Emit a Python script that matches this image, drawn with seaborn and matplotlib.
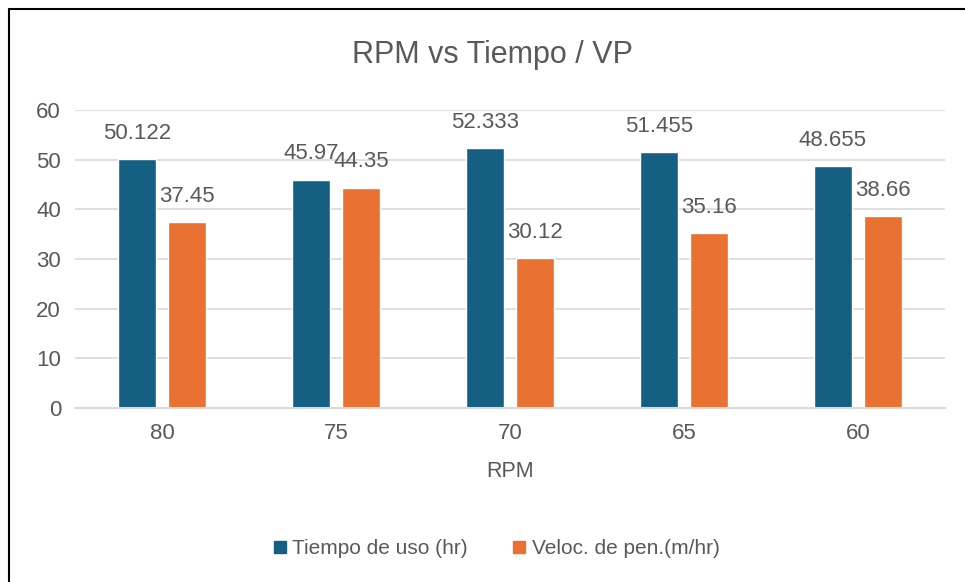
import matplotlib
matplotlib.use("Agg")
import matplotlib.pyplot as plt
import seaborn as sns
import pandas as pd
from matplotlib.lines import Line2D

rpm = ["80", "75", "70", "65", "60"]
tiempo = [50.122, 45.97, 52.333, 51.455, 48.655]
veloc = [37.45, 44.35, 30.12, 35.16, 38.66]
series_names = ["Tiempo de uso (hr)", "Veloc. de pen.(m/hr)"]
colors = ["#156082", "#E97132"]
yticks = [0, 10, 20, 30, 40, 50, 60]

df = pd.DataFrame({
    "RPM": rpm * 2,
    "valor": tiempo + veloc,
    "serie": [series_names[0]] * len(rpm) + [series_names[1]] * len(rpm),
})

sns.set_theme(style="white")
plt.rcParams['font.family'] = ['Liberation Sans', 'DejaVu Sans']
text_color = "#595959"

fig = plt.figure(figsize=(9.65, 5.82), dpi=100)
ax = fig.add_axes([75 / 965, 174 / 582, 870 / 965, 298 / 582])

sns.barplot(data=df, x="RPM", y="valor", hue="serie", order=rpm,
            hue_order=series_names, palette=colors, width=0.575, gap=0.24,
            saturation=1, ax=ax, legend=False)

ax.set_ylim(0, 60)
ax.set_xlim(-0.5, 4.5)
ax.set_yticks(yticks)
ax.yaxis.grid(True, color="#d9d9d9", linewidth=1.2)
ax.set_axisbelow(True)
for s in ["top", "right", "left"]:
    ax.spines[s].set_visible(False)
ax.spines["bottom"].set_color("#d9d9d9")
ax.spines["bottom"].set_linewidth(1.5)
ax.tick_params(axis="both", length=0, labelsize=16, colors=text_color)
ax.tick_params(axis="y", pad=10)
ax.tick_params(axis="x", pad=11)
ax.set_ylabel("")
ax.set_xlabel("RPM", fontsize=15.5, color=text_color, labelpad=12)

for cont in ax.containers:
    ax.bar_label(cont, fmt="{:g}", padding=11, fontsize=16, color=text_color)

fig.text(0.51, 0.905, "RPM vs Tiempo / VP", ha="center", va="center",
         fontsize=22, color=text_color)

handles = [Line2D([], [], marker="s", linestyle="none", markersize=9,
                  markerfacecolor=c, markeredgecolor=c) for c in colors]
fig.legend(handles, series_names, loc="center", bbox_to_anchor=(0.513, 0.057),
           ncol=2, frameon=False, fontsize=15, labelcolor=text_color,
           handletextpad=0.15, columnspacing=2.0, handlelength=0.9)

# chart border (top and left visible)
fig.add_artist(Line2D([9 / 965, 9 / 965], [0, 1 - 9 / 582],
                      transform=fig.transFigure, color="black", linewidth=1.5))
fig.add_artist(Line2D([9 / 965, 1], [1 - 9 / 582, 1 - 9 / 582],
                      transform=fig.transFigure, color="black", linewidth=1.5))

fig.savefig("out.png", dpi=100, facecolor="white")
